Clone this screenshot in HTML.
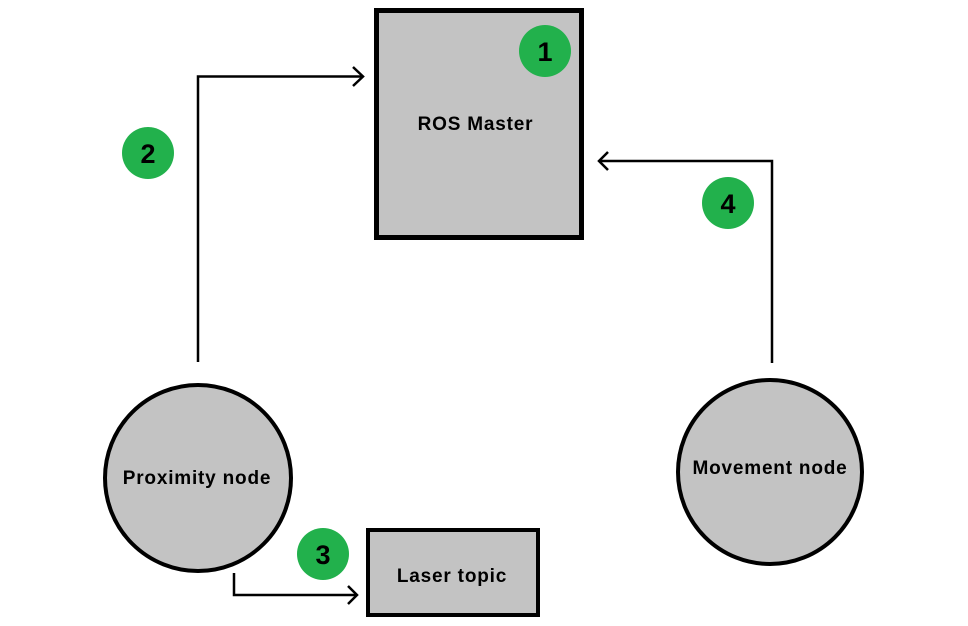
<!DOCTYPE html>
<html><head><meta charset="utf-8"><style>
html,body{margin:0;padding:0;background:#fff;}
svg{display:block;}
text{font-family:"Liberation Sans",Arial,sans-serif;font-weight:bold;fill:#000;}
.lbl{font-size:19px;letter-spacing:0.8px;}
</style></head><body>
<svg width="968" height="626" viewBox="0 0 968 626" xmlns="http://www.w3.org/2000/svg">
<rect x="0" y="0" width="968" height="626" fill="#fff"/>
<rect x="376.5" y="10.5" width="205" height="227" fill="#c3c3c3" stroke="#000" stroke-width="5"/>
<text class="lbl" x="475.5" y="130" text-anchor="middle">ROS Master</text>
<rect x="368" y="530" width="170" height="85" fill="#c3c3c3" stroke="#000" stroke-width="4"/>
<text class="lbl" x="452" y="582" text-anchor="middle">Laser topic</text>
<circle cx="198" cy="478" r="93" fill="#c3c3c3" stroke="#000" stroke-width="4"/>
<text class="lbl" x="197" y="484" text-anchor="middle">Proximity node</text>
<circle cx="770" cy="472" r="92" fill="#c3c3c3" stroke="#000" stroke-width="4"/>
<text class="lbl" x="770" y="474" text-anchor="middle">Movement node</text>
<g fill="none" stroke="#000" stroke-width="2.5">
<polyline points="198,362 198,76.5 362,76.5"/>
<polyline points="353,67 363,76.5 353,86"/>
<polyline points="772,363 772,161 599,161"/>
<polyline points="608,152 599,161 608,170"/>
<polyline points="234,573 234,595 357,595"/>
<polyline points="348,586 357,595 348,604"/>
</g>
<g fill="#22b14c">
<circle cx="545" cy="51" r="26"/>
<circle cx="148" cy="153" r="26"/>
<circle cx="323" cy="554" r="26"/>
<circle cx="728" cy="203" r="26"/>
</g>
<g font-size="27" text-anchor="middle">
<text x="545" y="61">1</text>
<text x="148" y="163">2</text>
<text x="323" y="564">3</text>
<text x="728" y="213">4</text>
</g>
</svg>
</body></html>
